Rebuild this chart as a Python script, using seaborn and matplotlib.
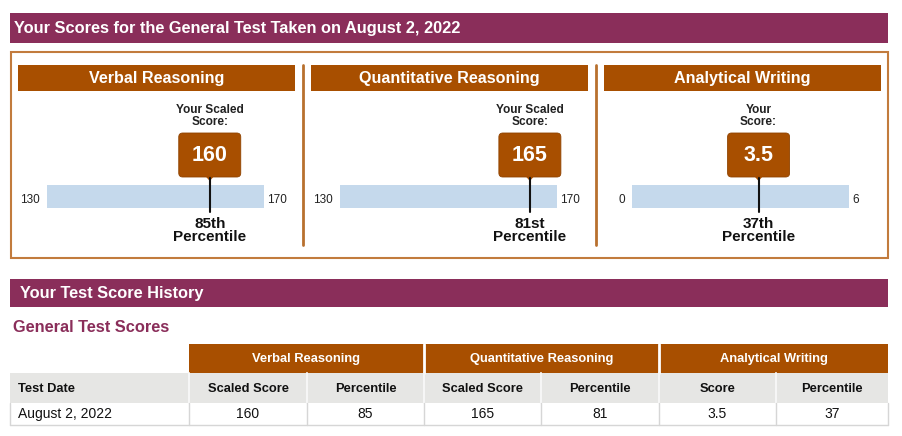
import matplotlib
matplotlib.use("Agg")
import matplotlib.pyplot as plt
from matplotlib.patches import Rectangle, FancyBboxPatch, Polygon
import seaborn as sns

# score report data
sections = ["Verbal Reasoning", "Quantitative Reasoning", "Analytical Writing"]
scores = [160, 165, 3.5]
percentiles = [85, 81, 37]
scale_min = [130, 130, 0]
scale_max = [170, 170, 6]
score_captions = ["Your Scaled\nScore:", "Your Scaled\nScore:", "Your\nScore:"]
test_dates = ["August 2, 2022"]
sub_headers = ["Scaled Score", "Percentile", "Scaled Score", "Percentile", "Score", "Percentile"]

PURPLE = "#8a2e5a"
ORANGE = "#a84f00"
BORDER = "#c27b3d"
BLUE = "#c5d9ec"
GRAY = "#e6e6e4"
W, H = 902, 436


def ordinal(n):
    if 10 <= n % 100 <= 20:
        suf = "th"
    else:
        suf = {1: "st", 2: "nd", 3: "rd"}.get(n % 10, "th")
    return f"{n}{suf}"


sns.set_theme(style="white")
plt.rcParams["font.family"] = ["Liberation Sans", "DejaVu Sans"]

fig = plt.figure(figsize=(W / 100, H / 100), dpi=100)
fig.patch.set_facecolor("white")
page = fig.add_axes([0, 0, 1, 1])
page.set_xlim(0, W)
page.set_ylim(H, 0)
page.axis("off")
page.set_zorder(5)
page.patch.set_alpha(0)

# top banner
page.add_patch(Rectangle((10, 13), 878, 30, color=PURPLE, lw=0))
page.text(14, 28.5, "Your Scores for the General Test Taken on " + test_dates[0],
          color="white", fontsize=11.8, fontweight="bold", va="center")
page.add_patch(Rectangle((10.5, 52.5), 877, 205, fill=False, ec=BORDER, lw=1.5))

panel_left = [18, 311, 604]
panel_w = 277
bar_left = [47, 340, 632]
bar_w = 217

for i, name in enumerate(sections):
    x0 = panel_left[i]
    page.add_patch(Rectangle((x0, 65), panel_w, 26, color=ORANGE, lw=0))
    page.text(x0 + panel_w / 2, 78.5, name, color="white", fontsize=11.6,
              fontweight="bold", ha="center", va="center")
    if i:
        page.plot([x0 - 8, x0 - 8], [65, 245], color="#b8702e", lw=2)

    ax = fig.add_axes([bar_left[i] / W, 1 - 208 / H, bar_w / W, 23 / H])
    sns.barplot(x=[scale_max[i]], orient="h", width=1, color=BLUE,
                saturation=1, linewidth=0, ax=ax)
    ax.set_xlim(scale_min[i], scale_max[i])
    ax.set_ylim(0.5, -0.5)
    ax.axis("off")

    page.text(bar_left[i] - 7, 200, f"{scale_min[i]:g}", fontsize=8.5,
              color="#222222", ha="right", va="center")
    page.text(bar_left[i] + bar_w + 3, 200, f"{scale_max[i]:g}", fontsize=8.5,
              color="#222222", ha="left", va="center")

    # x of the score on this bar's scale, in page pixels
    cx = page.transData.inverted().transform(ax.transData.transform((scores[i], 0)))[0]

    page.text(cx, 116, score_captions[i], fontsize=8.6, fontweight="bold",
              color="#222222", ha="center", va="center", linespacing=1.08)
    page.add_patch(FancyBboxPatch((cx - 31, 133), 62, 44,
                                  boxstyle="round,pad=0,rounding_size=4",
                                  fc=ORANGE, ec="#8f4300", lw=0.6))
    page.add_patch(Polygon([(cx - 4, 176.5), (cx + 4, 176.5), (cx, 181)],
                           closed=True, fc=ORANGE, ec="none"))
    page.text(cx, 155.5, f"{scores[i]:g}", color="white", fontsize=15.5,
              fontweight="bold", ha="center", va="center")
    page.plot([cx, cx], [178, 212], color="#111111", lw=1.5)
    page.text(cx, 230.5, ordinal(percentiles[i]) + "\nPercentile", fontsize=11,
              fontweight="bold", color="#111111", ha="center", va="center",
              linespacing=0.95)

# score history
page.add_patch(Rectangle((10, 279), 878, 28, color=PURPLE, lw=0))
page.text(20, 293.5, "Your Test Score History", color="white", fontsize=11.8,
          fontweight="bold", va="center")
page.text(13, 327, "General Test Scores", color=PURPLE, fontsize=11.8,
          fontweight="bold", va="center")

col_edges = [10, 189, 307, 424, 541, 659, 776, 888]

# group header row
for g, name in enumerate(sections):
    xa, xb = col_edges[1 + 2 * g], col_edges[3 + 2 * g]
    page.add_patch(Rectangle((xa, 344), xb - xa, 29, color=ORANGE, lw=0))
    page.text((xa + xb) / 2, 359, name, color="white", fontsize=9.3,
              fontweight="bold", ha="center", va="center")
for xe in col_edges[3:6:2]:
    page.plot([xe, xe], [344, 373], color="white", lw=2)

# column header row
page.add_patch(Rectangle((10, 373), 878, 30, color=GRAY, lw=0))
for xe in col_edges[1:-1]:
    page.plot([xe, xe], [373, 403], color="#f6f6f6", lw=1.5)
page.text(18, 388.5, "Test Date", fontsize=9.3, fontweight="bold",
          color="#111111", va="center")
for j, lab in enumerate(sub_headers):
    page.text((col_edges[1 + j] + col_edges[2 + j]) / 2, 388.5, lab, fontsize=9.3,
              fontweight="bold", color="#111111", ha="center", va="center")

# values row
values = []
for s, p in zip(scores, percentiles):
    values += [f"{s:g}", f"{p}"]
for xe in col_edges:
    page.plot([xe, xe], [403, 425], color="#d6d6d6", lw=1)
page.plot([10, 888], [425, 425], color="#d6d6d6", lw=1)
page.text(18, 414, test_dates[0], fontsize=10, color="#111111", va="center")
for j, v in enumerate(values):
    page.text((col_edges[1 + j] + col_edges[2 + j]) / 2, 414, v, fontsize=10,
              color="#111111", ha="center", va="center")

fig.savefig("out.png", dpi=100, facecolor="white")
